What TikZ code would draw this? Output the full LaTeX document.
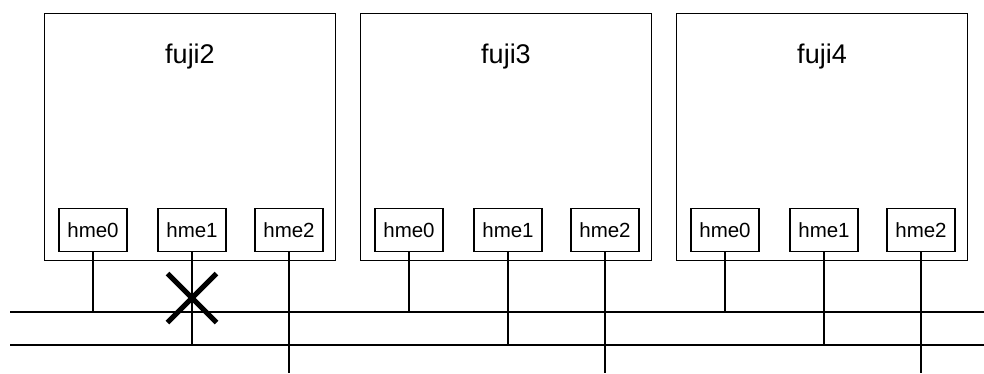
\documentclass[tikz,border=0pt]{standalone}
\usepackage{fontspec}
\setmainfont{Liberation Sans}
\usetikzlibrary{positioning, shapes.misc}

\begin{document}
\begin{tikzpicture}[
          x=1pt, y=-1pt,
          host/.style={draw, line width=1.6pt, minimum width=291pt, minimum height=247pt, inner sep=0pt},
          hostname/.style={font=\fontsize{27}{27}\selectfont},
          nic/.style={draw, line width=1.6pt, minimum width=68pt, minimum height=43pt, inner sep=0pt, font=\fontsize{20.5}{20.5}\selectfont},
          wire/.style={line width=1.6pt},
          fault/.style={cross out, draw, line width=5pt, minimum size=44pt, inner sep=0pt}
      ]
      \useasboundingbox (0,0) rectangle (984,373);

      % hosts with their interfaces
      \foreach \n/\cx in {2/190, 3/506, 4/822} {
          \node[host] (fuji\n) at (\cx,137) {};
          \node[hostname] (name\n) at (\cx,57) {fuji\n};
          \node[nic] (hme0fuji\n) at (\cx-97,230) {hme0};
          \node[nic] (hme1fuji\n) at (\cx+2,230) {hme1};
          \node[nic] (hme2fuji\n) at (\cx+99,230) {hme2};
      }

      % networks
      \coordinate (netAwest) at (10,312);
      \coordinate (netAeast) at (984,312);
      \coordinate (netBwest) at (10,345);
      \coordinate (netBeast) at (984,345);
      \coordinate (netC) at (0,373);

      \draw[wire] (netAwest) -- (netAeast);
      \draw[wire] (netBwest) -- (netBeast);

      \foreach \n in {2,3,4} {
          \draw[wire] (hme0fuji\n.south) -- (hme0fuji\n.south |- netAwest);
          \draw[wire] (hme1fuji\n.south) -- (hme1fuji\n.south |- netBwest);
          \draw[wire] (hme2fuji\n.south) -- (hme2fuji\n.south |- netC);
      }

      \node[fault] (broken) at (hme1fuji2.south |- 0,298) {};

      \end{tikzpicture}
\end{document}
